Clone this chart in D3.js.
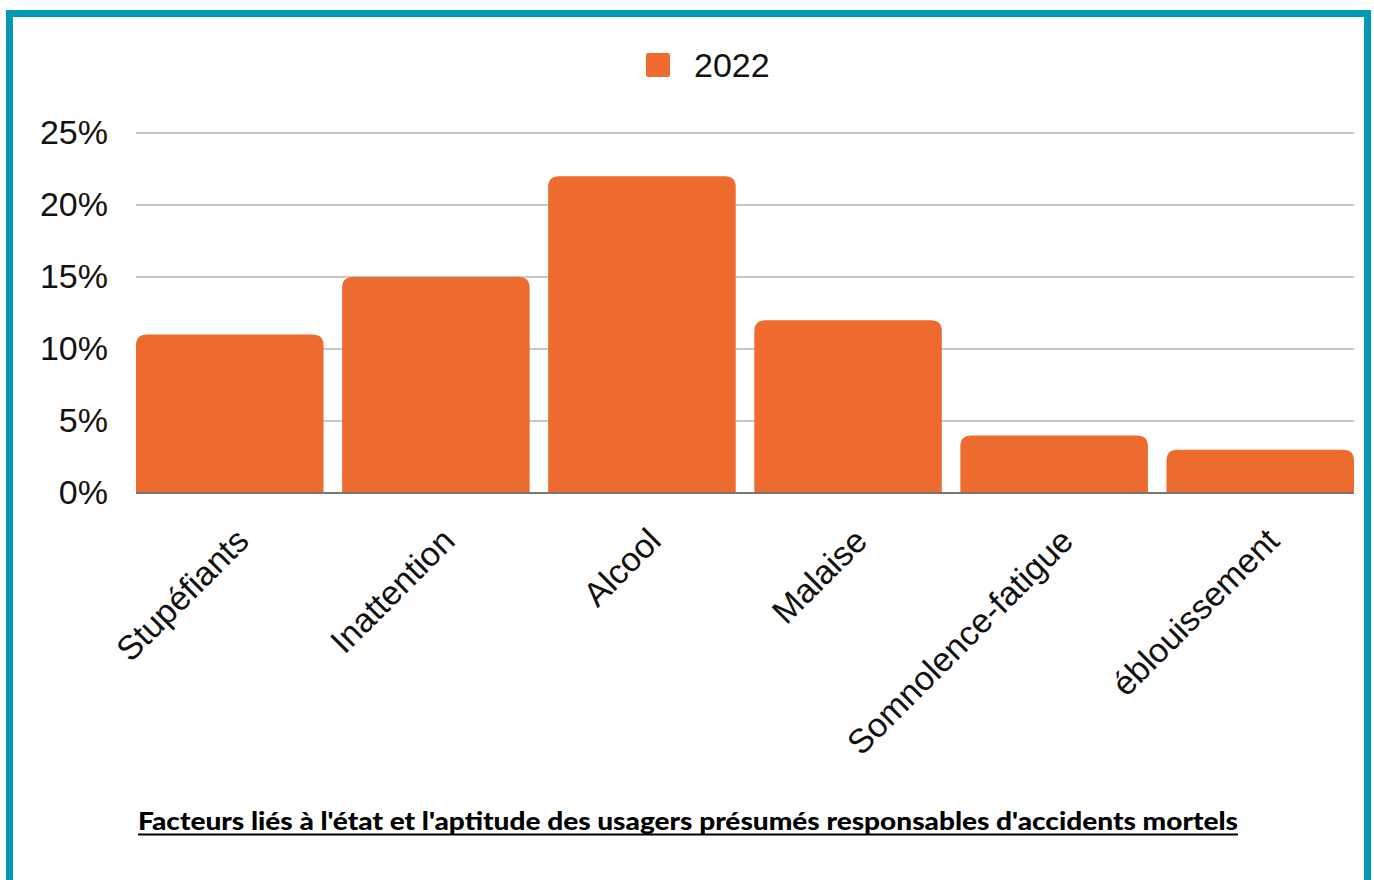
<!DOCTYPE html>
<html>
<head>
<meta charset="utf-8">
<script src="https://cdn.jsdelivr.net/npm/d3@7"></script>
<style>
  html, body { margin: 0; padding: 0; background: #fff; }
  svg { display: block; }
</style>
</head>
<body>
<svg id="chart" width="1374" height="880"></svg>
<script>
// données
var categories = ["Stupéfiants", "Inattention", "Alcool", "Malaise", "Somnolence-fatigue", "éblouissement"];
var values2022 = [11, 15, 22, 12, 4, 3];
var yTicks = [0, 5, 10, 15, 20, 25];
var seriesName = "2022";
var title = "Facteurs liés à l'état et l'aptitude des usagers présumés responsables d'accidents mortels";

var svg = d3.select("#chart");
var orange = "#ed6b2f";
var labelFont = "Liberation Sans, Arial, sans-serif";

// cadre bleu
svg.append("rect")
  .attr("x", 9.5).attr("y", 13.5)
  .attr("width", 1358).attr("height", 900)
  .attr("fill", "none")
  .attr("stroke", "#0399b4")
  .attr("stroke-width", 7);

var plotLeft = 136, plotRight = 1354, plotTop = 133, plotBottom = 493;

var x = d3.scaleBand()
  .domain(categories)
  .range([plotLeft, plotRight])
  .paddingInner(0.09)
  .paddingOuter(0);

var y = d3.scaleLinear()
  .domain([0, 25])
  .range([plotBottom, plotTop]);

// grille
svg.append("g")
  .selectAll("line")
  .data(yTicks.filter(function(d){ return d > 0; }))
  .enter()
  .append("line")
  .attr("x1", plotLeft).attr("x2", plotRight)
  .attr("y1", function(d){ return y(d); })
  .attr("y2", function(d){ return y(d); })
  .attr("stroke", "#c8c8c8")
  .attr("stroke-width", 2);

// axe Y
var yAxis = svg.append("g")
  .attr("transform", "translate(" + (plotLeft - 28) + ",0)")
  .call(d3.axisLeft(y).tickValues(yTicks).tickSize(0).tickPadding(0)
    .tickFormat(function(d){ return d + "%"; }));
yAxis.select(".domain").remove();
yAxis.selectAll("text")
  .attr("font-family", labelFont)
  .attr("font-size", 34)
  .attr("fill", "#111");

// barres avec coins arrondis en haut
var r = 11;
function barPath(d, i){
  var x0 = x(categories[i]), w = x.bandwidth();
  var yt = y(d), yb = y(0);
  return "M" + x0 + "," + yb +
    "L" + x0 + "," + (yt + r) +
    "Q" + x0 + "," + yt + " " + (x0 + r) + "," + yt +
    "L" + (x0 + w - r) + "," + yt +
    "Q" + (x0 + w) + "," + yt + " " + (x0 + w) + "," + (yt + r) +
    "L" + (x0 + w) + "," + yb + "Z";
}
svg.append("g")
  .selectAll("path")
  .data(values2022)
  .enter()
  .append("path")
  .attr("d", barPath)
  .attr("fill", orange);

// ligne de base
svg.append("line")
  .attr("x1", plotLeft).attr("x2", plotRight)
  .attr("y1", y(0)).attr("y2", y(0))
  .attr("stroke", "#777")
  .attr("stroke-width", 2);

// axe X (étiquettes inclinées)
var xAxis = svg.append("g")
  .attr("transform", "translate(0," + plotBottom + ")")
  .call(d3.axisBottom(x).tickSize(0).tickPadding(0));
xAxis.select(".domain").remove();
xAxis.selectAll("text")
  .attr("font-family", labelFont)
  .attr("font-size", 34)
  .attr("fill", "#111")
  .attr("text-anchor", "end")
  .attr("dy", 0)
  .attr("transform", "translate(21,50) rotate(-45)");

// légende
var legend = svg.append("g").attr("transform", "translate(646,53)");
legend.append("rect")
  .attr("width", 24).attr("height", 24).attr("rx", 2)
  .attr("fill", orange);
legend.append("text")
  .attr("x", 48).attr("y", 24)
  .attr("font-family", labelFont)
  .attr("font-size", 34)
  .attr("fill", "#111")
  .text(seriesName);

// titre souligné
svg.append("text")
  .attr("x", 138).attr("y", 830)
  .attr("font-family", "Lato, 'DejaVu Sans', sans-serif")
  .attr("font-weight", 900)
  .attr("font-size", 25)
  .attr("textLength", 1100)
  .attr("lengthAdjust", "spacingAndGlyphs")
  .attr("fill", "#000")
  .text(title);
svg.append("line")
  .attr("x1", 138).attr("x2", 1238)
  .attr("y1", 834.5).attr("y2", 834.5)
  .attr("stroke", "#000")
  .attr("stroke-width", 2);
</script>
</body>
</html>
